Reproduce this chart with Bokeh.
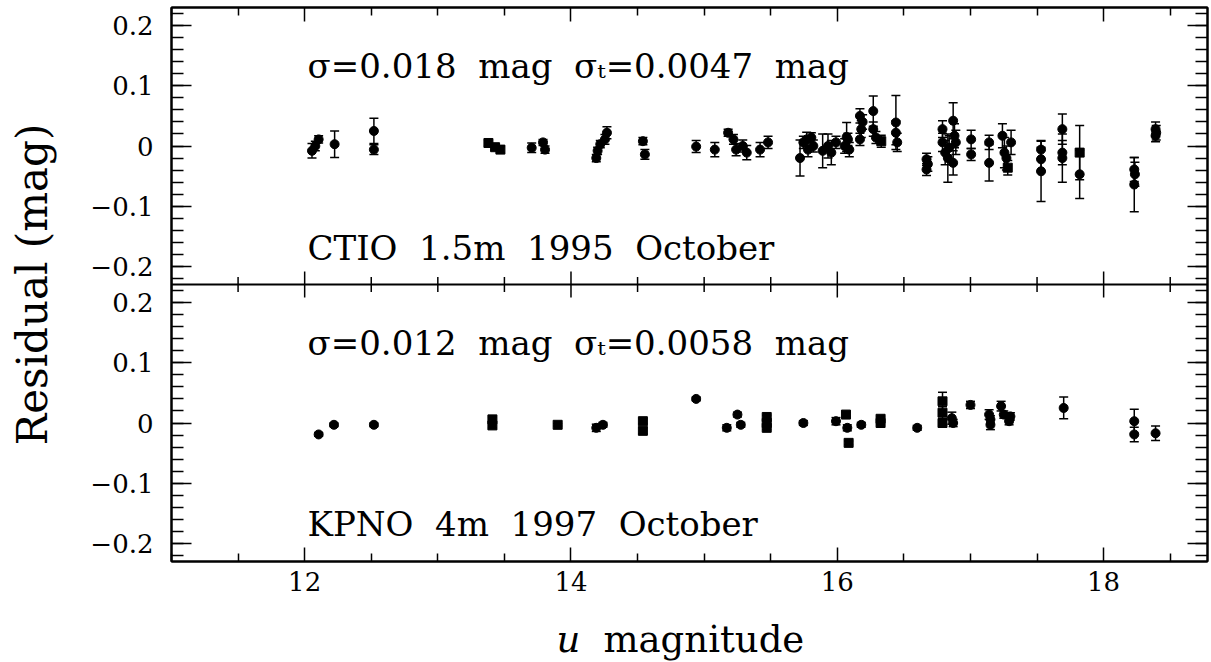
import numpy as np
from bokeh.plotting import figure
from bokeh.layouts import column
from bokeh.models import (Range1d, LinearAxis, FixedTicker, CustomJSTickFormatter, Whisker,
                          TeeHead, ColumnDataSource, Span, Label)
from bokeh.core.properties import value
from bokeh.embed import file_html
from bokeh.resources import INLINE

# ---------------- data ----------------
ctio_mag = [12.055, 12.08, 12.105, 12.225, 12.52, 12.52, 13.38, 13.43, 13.47, 13.705, 13.79, 13.805,
            14.19, 14.2, 14.22, 14.255, 14.27, 14.54, 14.555, 14.94, 15.08, 15.18, 15.22, 15.24,
            15.29, 15.32, 15.42, 15.48, 15.72, 15.745, 15.77, 15.805, 15.82, 15.78, 15.89, 15.93,
            15.955, 15.99, 16.055, 16.07, 16.08, 16.09, 16.17, 16.18, 16.17, 16.19, 16.27, 16.27,
            16.29, 16.33, 16.44, 16.44, 16.45, 16.67, 16.67, 16.68, 16.79, 16.79, 16.81, 16.83,
            16.84, 16.87, 16.88, 16.87, 16.89, 17.005, 17.005, 17.14, 17.14, 17.24, 17.255, 17.28,
            17.305, 17.27, 17.53, 17.53, 17.53, 17.69, 17.69, 17.69, 17.82, 17.82, 18.23, 18.23,
            18.235, 18.39, 18.39, 18.395]
ctio_res = [-0.008, 0.0, 0.011, 0.003, 0.025, -0.006, 0.005, -0.002, -0.006, -0.003, 0.006, -0.006,
            -0.02, -0.008, 0.003, 0.011, 0.022, 0.008, -0.014, -0.001, -0.006, 0.022, 0.011, -0.006,
            0.0, -0.011, -0.006, 0.006, -0.02, 0.006, 0.011, 0.014, 0.0, -0.006, -0.008, 0.0,
            -0.011, 0.006, 0.0, 0.015, 0.011, -0.006, 0.05, 0.028, 0.011, 0.04, 0.058, 0.028,
            0.014, 0.008, 0.039, 0.022, 0.006, -0.022, -0.039, -0.03, 0.028, 0.006, -0.011, -0.02,
            -0.003, 0.042, 0.017, -0.028, 0.006, 0.011, -0.014, 0.006, -0.028, 0.017, -0.011, -0.036,
            0.006, -0.02, -0.006, -0.022, -0.042, 0.028, -0.011, -0.02, -0.011, -0.047, -0.039, -0.064,
            -0.047, 0.028, 0.017, 0.022]
ctio_err = [0.012, 0.008, 0.006, 0.022, 0.021, 0.008, 0.005, 0.005, 0.005, 0.008, 0.005, 0.006,
            0.006, 0.006, 0.006, 0.008, 0.01, 0.006, 0.008, 0.01, 0.012, 0.006, 0.008, 0.01,
            0.01, 0.012, 0.012, 0.01, 0.03, 0.01, 0.012, 0.008, 0.01, 0.012, 0.028, 0.02,
            0.02, 0.01, 0.012, 0.024, 0.01, 0.012, 0.012, 0.014, 0.01, 0.012, 0.025, 0.012,
            0.01, 0.01, 0.045, 0.02, 0.015, 0.01, 0.01, 0.012, 0.014, 0.015, 0.02, 0.04,
            0.02, 0.03, 0.02, 0.02, 0.02, 0.015, 0.01, 0.012, 0.03, 0.02, 0.025, 0.012,
            0.02, 0.02, 0.015, 0.02, 0.05, 0.025, 0.02, 0.04, 0.045, 0.04, 0.02, 0.045,
            0.02, 0.012, 0.01, 0.012]
ctio_mark = ["circle"] * len(ctio_mag)
for i in (6, 7, 8, 49, 71, 80):
    ctio_mark[i] = "square"

kpno_mag = [12.105, 12.22, 12.52, 13.41, 13.41, 13.9, 14.19, 14.24, 14.54, 14.54, 14.94, 15.17,
            15.25, 15.275, 15.47, 15.47, 15.47, 15.745, 15.99, 16.065, 16.075, 16.085, 16.18, 16.325,
            16.325, 16.6, 16.79, 16.79, 16.79, 16.86, 16.87, 17.0, 17.14, 17.15, 17.15, 17.23,
            17.25, 17.29, 17.30, 17.7, 18.23, 18.23, 18.39]
kpno_res = [-0.019, -0.003, -0.003, 0.006, -0.004, -0.003, -0.008, -0.003, 0.003, -0.013, 0.04, -0.008,
            0.014, -0.003, 0.01, 0.0, -0.008, 0.0, 0.003, 0.014, -0.008, -0.033, -0.003, 0.007,
            0.0, -0.008, 0.036, 0.017, 0.0, 0.008, 0.0, 0.03, 0.014, -0.003, 0.006, 0.028,
            0.014, 0.003, 0.011, 0.025, 0.003, -0.019, -0.017]
kpno_err = [0.003, 0.003, 0.003, 0.004, 0.004, 0.002, 0.006, 0.004, 0.004, 0.005, 0.003, 0.005,
            0.004, 0.004, 0.003, 0.003, 0.003, 0.004, 0.006, 0.004, 0.005, 0.003, 0.004, 0.003,
            0.003, 0.004, 0.015, 0.01, 0.005, 0.01, 0.006, 0.006, 0.008, 0.008, 0.006, 0.008,
            0.006, 0.006, 0.006, 0.018, 0.02, 0.012, 0.012]
kpno_mark = ["circle"] * len(kpno_mag)
for i in (3, 4, 5, 8, 9, 14, 15, 16, 19, 21, 23, 24, 26, 27, 28):
    kpno_mark[i] = "square"

NB = "\u00a0 "  # a widened word gap
ctio_title = NB.join(["CTIO", "1.5m", "1995", "October"])
kpno_title = NB.join(["KPNO", "4m", "1997", "October"])
ctio_sigma = NB.join(["\u03c3=0.018", "mag", "\u03c3\u209c=0.0047", "mag"])
kpno_sigma = NB.join(["\u03c3=0.012", "mag", "\u03c3\u209c=0.0058", "mag"])
x_label_parts = ["u", "magnitude"]
x_label_styles = ["italic", "normal"]
y_label = "Residual (mag)"
x_major = [12, 14, 16, 18]
y_major = [-0.2, -0.1, 0.0, 0.1, 0.2]

# ---------------- layout constants ----------------
FONT = "DejaVu Serif"
XLO, XHI = 11.0, 18.78
YHALF = 0.23
OFF = 2 * YHALF  # vertical shift of the lower panel
x_minor = [v for v in np.arange(11.0, 18.8, 0.5) if v not in x_major]
y_minor_one = [round(v, 2) for v in np.arange(-0.22, 0.2201, 0.02)]
y_ticks = y_major + [v - OFF for v in y_major]
y_minor = y_minor_one + [v - OFF for v in y_minor_one]
xr = Range1d(XLO, XHI)

p = figure(frame_width=1036, frame_height=554,
           x_range=xr, y_range=Range1d(-YHALF - OFF, YHALF),
           output_backend="svg", toolbar_location=None,
           x_axis_location=None, y_axis_location=None,
           min_border_left=171, min_border_right=4, min_border_top=7, min_border_bottom=49)
p.extra_y_ranges = {"bot": Range1d(-YHALF, YHALF + OFF)}
p.xgrid.visible = False
p.ygrid.visible = False
p.outline_line_color = "black"
p.outline_line_width = 2
p.background_fill_color = "white"
p.border_fill_color = "white"

xt = FixedTicker(ticks=x_major, minor_ticks=x_minor)
yt = FixedTicker(ticks=y_ticks, minor_ticks=y_minor)
yfmt = CustomJSTickFormatter(code="""
    let v = tick < -0.235 ? tick + %f : tick;
    v = Math.round(v * 10) / 10;
    if (Math.abs(v) < 1e-9) return "0";
    return (v < 0 ? "\\u2212" : "") + Math.abs(v).toFixed(1);
""" % OFF)


def style(ax, major, minor, show_labels):
    ax.major_tick_in = major
    ax.major_tick_out = 0
    ax.minor_tick_in = minor
    ax.minor_tick_out = 0
    ax.axis_line_width = 2
    ax.axis_line_color = "black"
    ax.major_tick_line_width = 1.5
    ax.minor_tick_line_width = 1.5
    ax.major_tick_line_color = "black"
    ax.minor_tick_line_color = "black"
    ax.major_label_text_font = FONT
    ax.major_label_text_color = "black"
    if show_labels:
        ax.major_label_text_font_size = "26px"
    else:
        ax.major_label_text_font_size = "0px"
        ax.major_label_standoff = 0


bottom = LinearAxis(ticker=xt)
style(bottom, 14, 8, True)
bottom.major_label_standoff = 10
top = LinearAxis(ticker=xt)
style(top, 14, 8, False)
left = LinearAxis(ticker=yt, formatter=yfmt, axis_label=y_label)
style(left, 20, 12, True)
left.major_label_standoff = 18
left.axis_label_text_font = FONT
left.axis_label_text_font_size = "42px"
left.axis_label_text_font_style = "normal"
left.axis_label_text_color = "black"
left.axis_label_standoff = 30
right = LinearAxis(ticker=yt)
style(right, 20, 12, False)
p.add_layout(bottom, "below")
p.add_layout(top, "above")
p.add_layout(left, "left")
p.add_layout(right, "right")

# separator between the panels and its tick marks
p.add_layout(Span(location=-YHALF, dimension="width", line_color="black", line_width=2))
p.scatter(x=x_major, y=[-YHALF] * len(x_major), marker="dash", angle=np.pi / 2, size=26,
          line_color="black", line_width=1.5)
p.scatter(x=x_minor, y=[-YHALF] * len(x_minor), marker="dash", angle=np.pi / 2, size=15,
          line_color="black", line_width=1.5)

# data
for mag, res, err, mk, rng in ((ctio_mag, ctio_res, ctio_err, ctio_mark, "default"),
                               (kpno_mag, kpno_res, kpno_err, kpno_mark, "bot")):
    src = ColumnDataSource(dict(x=mag, y=res, lo=[r - e for r, e in zip(res, err)],
                                hi=[r + e for r, e in zip(res, err)], m=mk))
    w = Whisker(source=src, base="x", upper="hi", lower="lo", dimension="height",
                line_color="black", line_width=1.5, y_range_name=rng,
                upper_head=TeeHead(size=9, line_width=1.5, line_color="black"),
                lower_head=TeeHead(size=9, line_width=1.5, line_color="black"))
    p.add_layout(w)
    p.scatter(x="x", y="y", marker="m", source=src, size=9, fill_color="black",
              line_color="black", y_range_name=rng)

# panel annotations (screen units relative to the frame)
for txt, yy in ((ctio_sigma, 496), (ctio_title, 314), (kpno_sigma, 219), (kpno_title, 38)):
    p.add_layout(Label(x=136, y=yy, x_units="screen", y_units="screen", text=txt,
                       text_font=FONT, text_font_size="34px", text_color="black",
                       text_baseline="alphabetic", text_align="left"))

# x-axis title strip below the plot, sharing the x scale
q = figure(frame_width=1036, frame_height=52, x_range=xr, y_range=Range1d(0, 52),
           output_backend="svg", toolbar_location=None, x_axis_location=None,
           y_axis_location=None, min_border_left=171, min_border_right=4,
           min_border_top=0, min_border_bottom=0)
q.xgrid.visible = False
q.ygrid.visible = False
q.outline_line_color = None
q.text(x=[13.891, 14.244], y=[23, 23], text=x_label_parts, text_font=value(FONT),
       text_font_size="37px", text_font_style=x_label_styles, text_color="black",
       text_baseline="alphabetic", text_align="left")

layout = column(p, q, spacing=0)
open("out.html", "w").write(file_html(layout, INLINE))
